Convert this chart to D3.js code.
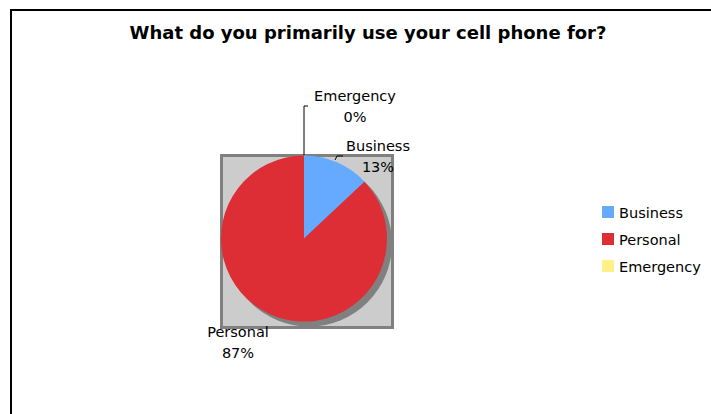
<!DOCTYPE html>
<html>
<head>
<meta charset="utf-8">
<script src="https://cdn.jsdelivr.net/npm/d3@7"></script>
<style>
  html, body { margin: 0; padding: 0; background: #fff; }
  svg { display: block; }
  text { font-family: "DejaVu Sans", Verdana, sans-serif; fill: #000; }
</style>
</head>
<body>
<svg id="chart" width="711" height="414"></svg>
<script>
// Survey answers: share of respondents by primary phone use (percent)
const categories = ["Business", "Personal", "Emergency"];
const shares = [13, 87, 0];
const colors = ["#66AAFF", "#DD2E35", "#FFF08A"];
const title = "What do you primarily use your cell phone for?";

const svg = d3.select("#chart");

// outer chart frame
svg.append("rect")
  .attr("x", 11).attr("y", 10)
  .attr("width", 711).attr("height", 414)
  .attr("fill", "#fff").attr("stroke", "#000").attr("stroke-width", 2);

svg.append("text")
  .attr("x", 368).attr("y", 39)
  .attr("text-anchor", "middle")
  .attr("font-size", 18).attr("font-weight", "bold")
  .text(title);

const cx = 304, cy = 238.5, r = 83;

// plot area square
svg.append("rect")
  .attr("x", 221.5).attr("y", 155.5)
  .attr("width", 171).attr("height", 172)
  .attr("fill", "#CCCCCC").attr("stroke", "#808080").attr("stroke-width", 3);

const data = categories.map((c, i) => ({ name: c, value: shares[i], color: colors[i] }));
const pie = d3.pie().value(d => d.value).sort(null);
const arcs = pie(data);
const arc = d3.arc().innerRadius(0).outerRadius(r);

// drop shadow
svg.append("circle")
  .attr("cx", cx + 5).attr("cy", cy + 5).attr("r", r)
  .attr("fill", "#808080");

const g = svg.append("g").attr("transform", `translate(${cx},${cy})`);
g.selectAll("path.slice")
  .data(arcs.filter(d => d.endAngle > d.startAngle))
  .join("path")
  .attr("class", "slice")
  .attr("d", arc)
  .attr("fill", d => d.data.color);

// data labels with leader lines
const labelPos = {
  Business: { x: 378, y: 151, line: [[335, 160], [337, 156], [343, 156]] },
  Personal: { x: 238, y: 337, line: null },
  Emergency: { x: 355, y: 101, line: [[304, 155], [304, 106], [308, 106]] }
};
arcs.forEach(d => {
  const p = labelPos[d.data.name];
  if (p.line) {
    svg.append("path")
      .attr("d", d3.line()(p.line))
      .attr("fill", "none").attr("stroke", "#000").attr("stroke-width", 1);
  }
  const t = svg.append("text")
    .attr("text-anchor", "middle")
    .attr("font-size", 14.5);
  t.append("tspan").attr("x", p.x).attr("y", p.y).text(d.data.name);
  t.append("tspan").attr("x", p.x).attr("y", p.y + 21).text(Math.round(d.data.value) + "%");
});

// legend
const leg = svg.append("g").attr("transform", "translate(602,206)");
const items = leg.selectAll("g").data(data).join("g")
  .attr("transform", (d, i) => `translate(0,${i * 27})`);
items.append("rect").attr("width", 12).attr("height", 12).attr("fill", d => d.color);
items.append("text").attr("x", 17).attr("y", 11.5).attr("font-size", 14.5).text(d => d.name);
</script>
</body>
</html>
